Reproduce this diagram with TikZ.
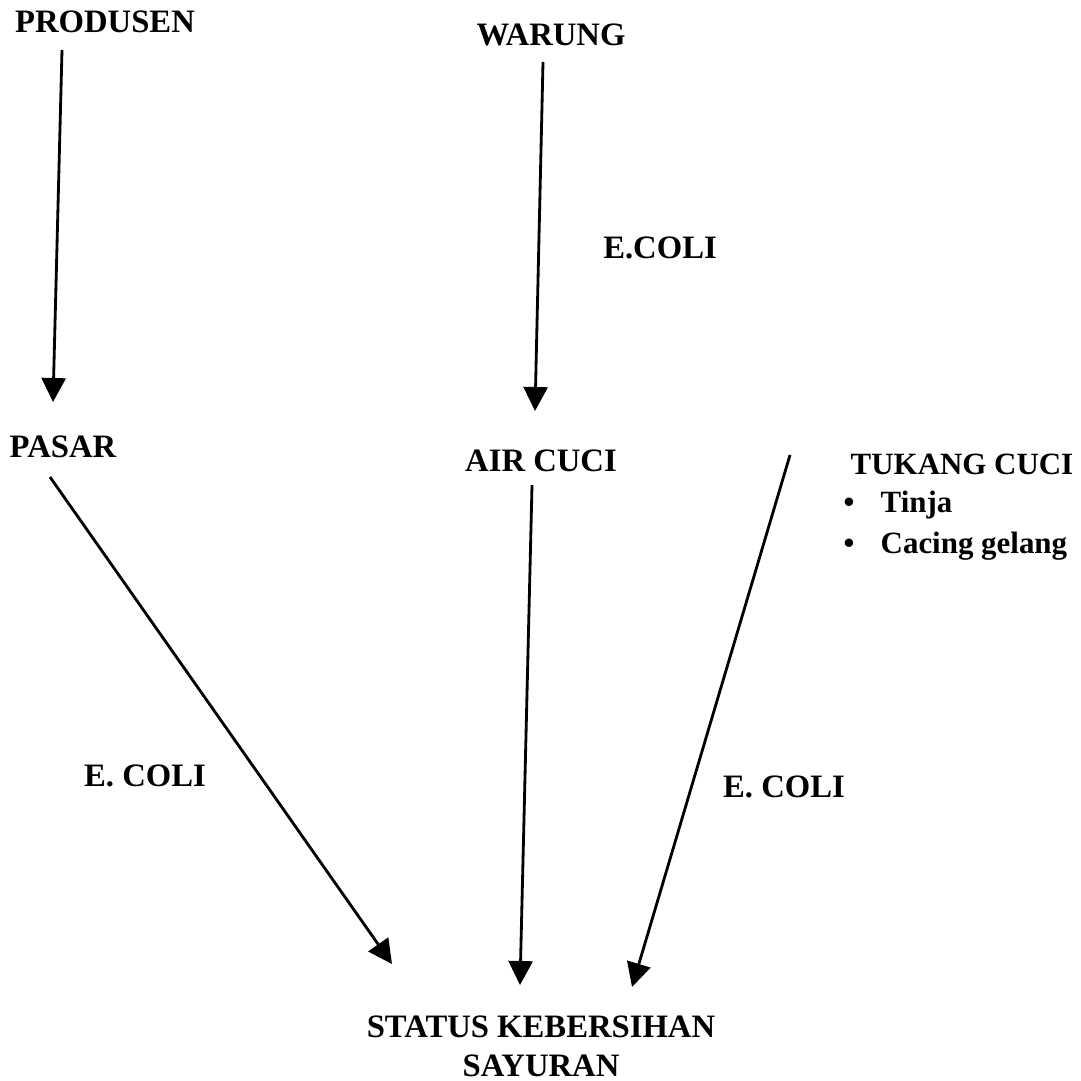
\documentclass[tikz,border=0pt]{standalone}
\usepackage{fontspec}
\setmainfont{Liberation Serif}
\usetikzlibrary{arrows.meta}
\begin{document}
\begin{tikzpicture}[
    lbl/.style={font=\fontsize{9.3}{11}\selectfont\bfseries, inner sep=0pt},
    small lbl/.style={lbl, font=\fontsize{8.8}{10}\selectfont\bfseries, anchor=west},
    arr/.style={-{Triangle[length=0.24cm,width=0.24cm]}, line width=0.8pt}
  ]
    \useasboundingbox (0,0) rectangle (10.81,-10.80);
    % sources
    \node[lbl] (produsen) at (1.05,-0.22) {PRODUSEN};
    \node[lbl] (warung) at (5.51,-0.35) {WARUNG};
    \node[lbl] (pasar) at (0.63,-4.47) {PASAR};
    \node[lbl] (aircuci) at (5.41,-4.61) {AIR CUCI};
    \node[small lbl] (tukang) at (8.50,-4.64) {TUKANG CUCI};
    \node[small lbl] (tinja) at (8.43,-5.05) {\makebox[0.37cm][l]{\textbullet}Tinja};
    \node[small lbl] (cacing) at (8.43,-5.46) {\makebox[0.37cm][l]{\textbullet}Cacing gelang};
    \node[lbl, align=center] (status) at (5.41,-10.46) {STATUS KEBERSIHAN\\SAYURAN};
    % labels on the arrows
    \node[lbl] (ecoli1) at (6.60,-2.48) {E.COLI};
    \node[lbl] (ecoli2) at (1.45,-7.76) {E. COLI};
    \node[lbl] (ecoli3) at (7.84,-7.87) {E. COLI};
    % arrow ends
    \coordinate (produsenout) at (0.62,-0.50);
    \coordinate (pasarin) at (0.53,-4.02);
    \coordinate (warungout) at (5.43,-0.62);
    \coordinate (aircuciin) at (5.35,-4.11);
    \coordinate (pasarout) at (0.50,-4.77);
    \coordinate (aircuciout) at (5.32,-4.85);
    \coordinate (tukangout) at (7.90,-4.55);
    \coordinate (status1) at (3.92,-9.64);
    \coordinate (status2) at (5.20,-9.85);
    \coordinate (status3) at (6.32,-9.87);
    \draw[arr] (produsenout) -- (pasarin);
    \draw[arr] (warungout) -- (aircuciin);
    \draw[arr] (pasarout) -- (status1);
    \draw[arr] (aircuciout) -- (status2);
    \draw[arr] (tukangout) -- (status3);
\end{tikzpicture}
\end{document}
